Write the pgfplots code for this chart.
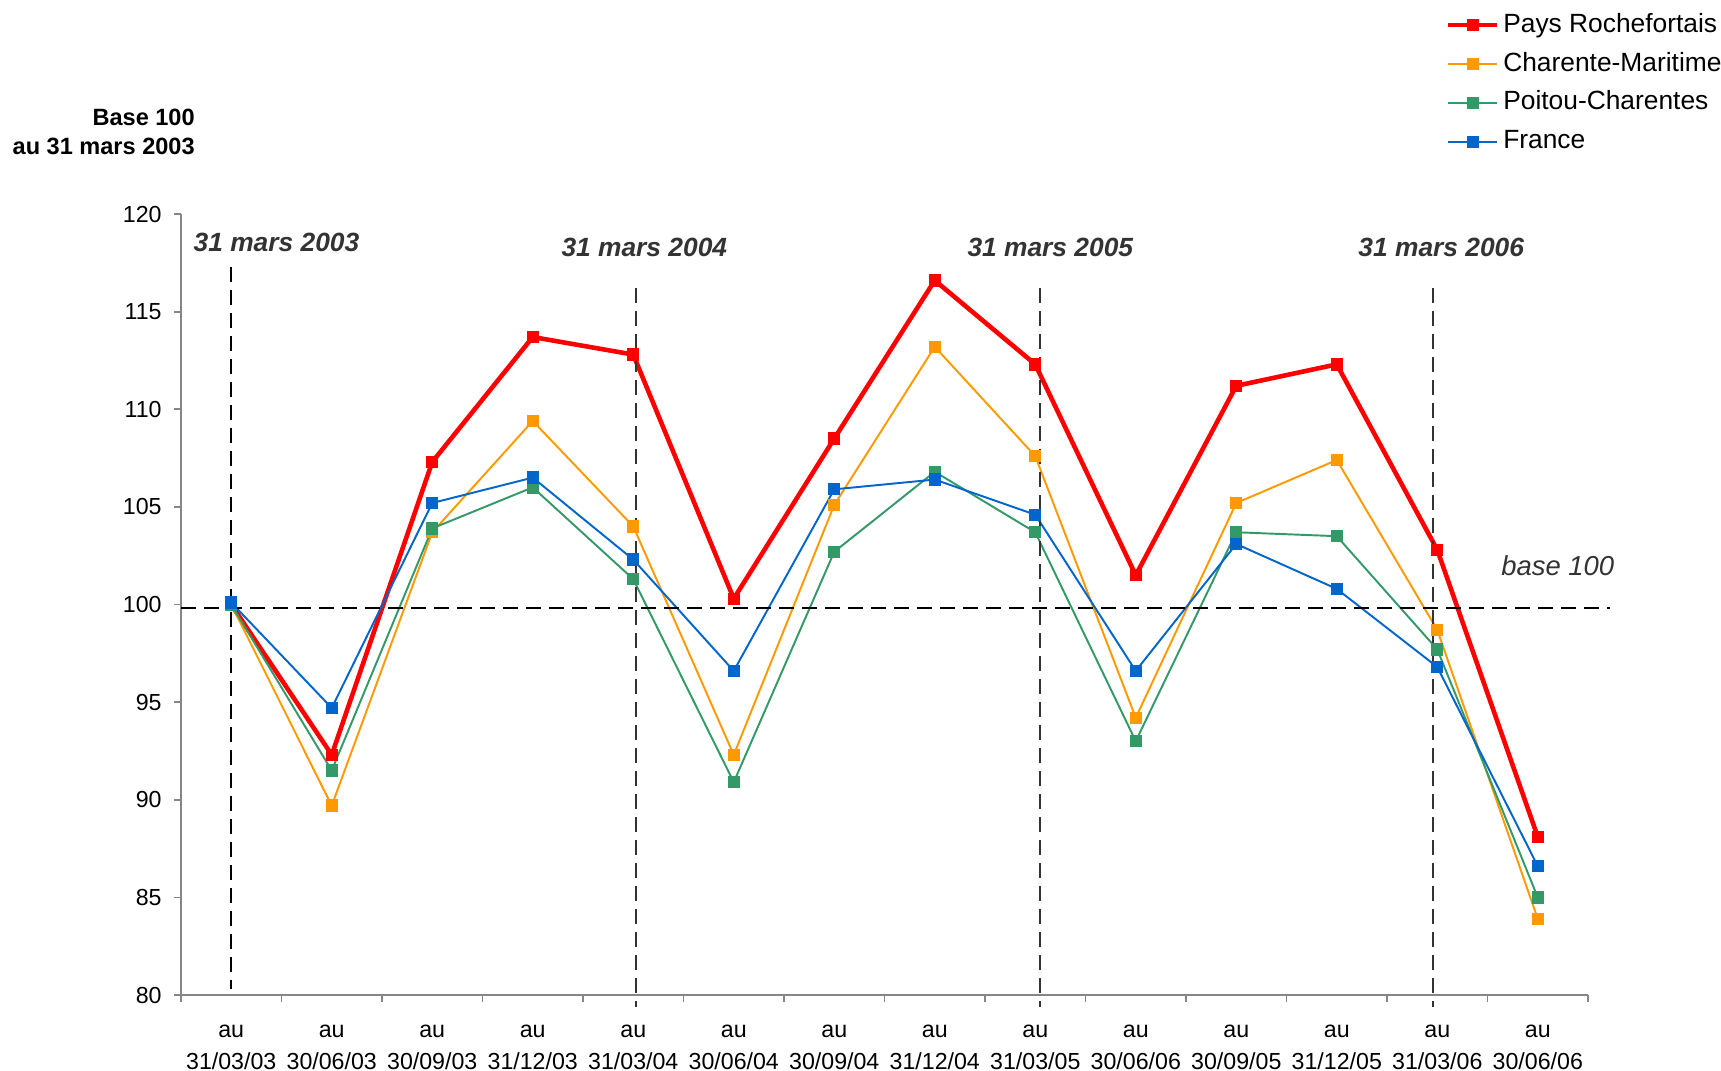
\documentclass[border=0pt]{standalone}
\usepackage{pgfplots}
\pgfplotsset{compat=1.18}
\usepackage{fontspec}
\setmainfont{Liberation Sans}
\definecolor{cRed}{HTML}{FF0000}
\definecolor{cOrange}{HTML}{FF9900}
\definecolor{cGreen}{HTML}{339966}
\definecolor{cBlue}{HTML}{0066CC}
\definecolor{cAnn}{HTML}{333333}
\definecolor{cAxis}{HTML}{868686}
\begin{document}
\begin{tikzpicture}
\useasboundingbox (-18.1mm,-7.5mm) rectangle (154.0mm,99.5mm);
\begin{axis}[
  scale only axis, width=140.7mm, height=78.1mm,
  at={(0,0)}, anchor=south west,
  xmin=-0.5, xmax=13.5, ymin=80, ymax=120,
  axis lines=left,
  axis line style={-, draw=cAxis, line width=0.6pt},
  ytick={80,85,...,120},
  xtick={-0.5,0.5,...,13.5}, xticklabels={},
  extra x ticks={0,1,2,3,4,5,6,7,8,9,10,11,12,13},
  extra x tick labels={au\\31/03/03,au\\30/06/03,au\\30/09/03,au\\31/12/03,au\\31/03/04,au\\30/06/04,au\\30/09/04,au\\31/12/04,au\\31/03/05,au\\30/06/06,au\\30/09/05,au\\31/12/05,au\\31/03/06,au\\30/06/06},
  extra x tick style={major tick length=0pt},
  tick align=outside, major tick length=0.7mm,
  tick style={draw=cAxis, line width=0.5pt},
  xticklabel style={align=center, font=\fontsize{6.6}{9.2}\selectfont, text=black, yshift=-1.75mm},
  yticklabel style={font=\fontsize{6.6}{8}\selectfont, text=black},
  /pgf/number format/assume math mode=true,
  clip=false,
  legend cell align=left,
  legend style={draw=none, fill=none, at={(0.8987,1.263)}, anchor=north west,
    inner sep=0pt, font=\fontsize{7.5}{9}\selectfont, row sep=2.06pt,
    nodes={inner sep=1pt, text height=5.5pt, text depth=1.5pt}},
  legend image code/.code={\draw[mark repeat=2,mark phase=2,#1] plot coordinates {(0mm,0mm)(2.45mm,0mm)(4.9mm,0mm)};},
]
\addplot[cRed, line width=1.3pt, mark=square*, mark size=1.6pt, mark options={solid, line width=0.3pt}] coordinates {
(0,100.0)(1,92.3)(2,107.3)(3,113.7)(4,112.8)(5,100.3)(6,108.5)(7,116.6)(8,112.3)(9,101.5)(10,111.2)(11,112.3)(12,102.8)(13,88.1)};
\addlegendentry{Pays Rochefortais}
\addplot[cOrange, line width=0.55pt, mark=square*, mark size=1.6pt, mark options={solid, line width=0.3pt}] coordinates {
(0,100.0)(1,89.7)(2,103.7)(3,109.4)(4,104.0)(5,92.3)(6,105.1)(7,113.2)(8,107.6)(9,94.2)(10,105.2)(11,107.4)(12,98.7)(13,83.9)};
\addlegendentry{Charente-Maritime}
\addplot[cGreen, line width=0.55pt, mark=square*, mark size=1.6pt, mark options={solid, line width=0.3pt}] coordinates {
(0,100.0)(1,91.5)(2,103.9)(3,106.0)(4,101.3)(5,90.9)(6,102.7)(7,106.8)(8,103.7)(9,93.0)(10,103.7)(11,103.5)(12,97.7)(13,85.0)};
\addlegendentry{Poitou-Charentes}
\addplot[cBlue, line width=0.55pt, mark=square*, mark size=1.6pt, mark options={solid, line width=0.3pt}] coordinates {
(0,100.1)(1,94.7)(2,105.2)(3,106.5)(4,102.3)(5,96.6)(6,105.9)(7,106.4)(8,104.6)(9,96.6)(10,103.1)(11,100.8)(12,96.8)(13,86.6)};
\addlegendentry{France}
\draw[black, line width=0.6pt, dash pattern=on 1.5mm off 0.8mm] (axis cs:-0.5,99.8) -- (axis cs:13.72,99.8);
\draw[black, line width=0.6pt, dash pattern=on 1.5mm off 0.8mm] (axis cs:0,117.3) -- (axis cs:0,80.3);
\draw[black!80, line width=0.6pt, dash pattern=on 1.5mm off 0.8mm] (axis cs:4.03,116.2) -- (axis cs:4.03,79.4);
\draw[black!80, line width=0.6pt, dash pattern=on 1.5mm off 0.8mm] (axis cs:8.05,116.2) -- (axis cs:8.05,79.4);
\draw[black!80, line width=0.6pt, dash pattern=on 1.5mm off 0.8mm] (axis cs:11.96,116.2) -- (axis cs:11.96,79.4);
\node[font=\bfseries\itshape\fontsize{7.5}{9}\selectfont, text=cAnn] at (axis cs:0.45,118.54) {31 mars 2003};
\node[font=\bfseries\itshape\fontsize{7.5}{9}\selectfont, text=cAnn] at (axis cs:4.11,118.3) {31 mars 2004};
\node[font=\bfseries\itshape\fontsize{7.5}{9}\selectfont, text=cAnn] at (axis cs:8.15,118.3) {31 mars 2005};
\node[font=\bfseries\itshape\fontsize{7.5}{9}\selectfont, text=cAnn] at (axis cs:12.04,118.3) {31 mars 2006};
\node[font=\itshape\fontsize{7.8}{9}\selectfont, text=cAnn] at (axis cs:13.2,101.97) {base 100};
\node[anchor=east, align=right, inner sep=0pt, font=\bfseries\fontsize{6.7}{8.1}\selectfont] at (rel axis cs:0,1) [xshift=1.44mm, yshift=8.2mm] {Base 100\\au 31 mars 2003};
\end{axis}
\end{tikzpicture}
\end{document}
